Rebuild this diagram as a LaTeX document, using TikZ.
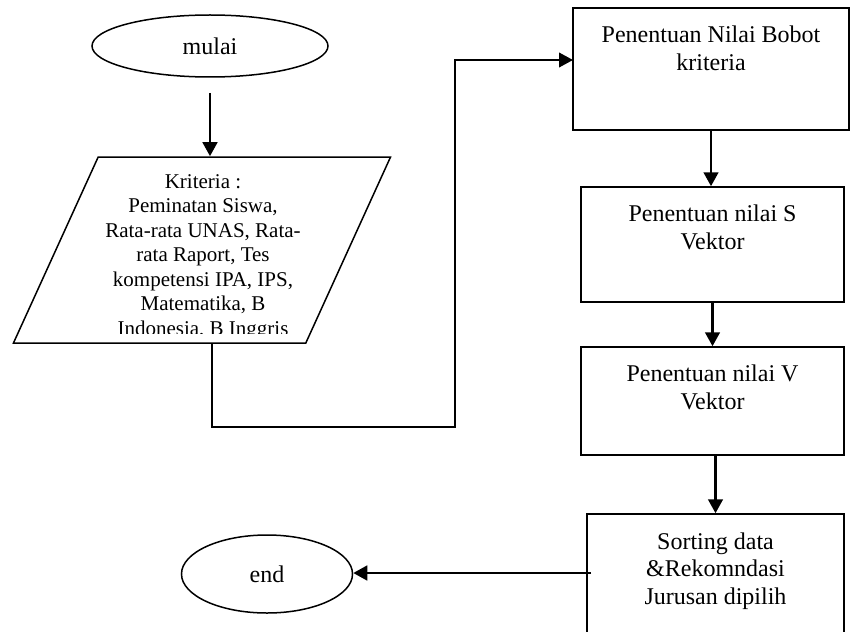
\documentclass[tikz,border=0pt]{standalone}
\usepackage{fontspec}
\setmainfont{Liberation Serif}
\usetikzlibrary{shapes.geometric,arrows.meta}

\begin{document}
\begin{tikzpicture}[x=0.5pt, y=-0.5pt,
	term/.style={draw, ellipse, line width=0.75pt, inner sep=0pt, font=\fontsize{12}{14}\selectfont},
	box/.style={draw, rectangle, line width=0.75pt, inner sep=0pt},
	para/.style={draw, trapezium, trapezium left angle=67.8, trapezium right angle=112.2, trapezium stretches=true, line width=0.75pt, inner sep=1pt, minimum width=188.5pt, minimum height=93pt},
	txt/.style={anchor=north, align=center, inner sep=0pt, font=\fontsize{12}{14}\selectfont},
	arr/.style={line width=1.35pt, -{Triangle[length=7pt, width=7.3pt]}},
	link/.style={line width=1pt, -{Triangle[length=7pt, width=7.3pt]}}]

	\useasboundingbox (0, 0) rectangle (850, 631);
	\clip (0, 0) rectangle (850, 631);

	\node[term, minimum width=118pt, minimum height=31pt] (mulai) at (210, 46) {mulai};
	\node[term, minimum width=85.5pt, minimum height=39pt] (selesai) at (267, 574) {end};

	\node[para] (krit) at (202, 250) {};
	\node[box, minimum width=138pt, minimum height=61pt] (bobot) at (711, 69) {};
	\node[box, minimum width=131.5pt, minimum height=57.5pt] (svek) at (712.5, 244.5) {};
	\node[box, minimum width=131.5pt, minimum height=54pt] (vvek) at (712.5, 401) {};
	\node[box, minimum width=128.5pt, minimum height=75pt] (sort) at (715.5, 589) {};

	\begin{scope}
		\clip (0, 0) rectangle (850, 333);
		\node[txt, font=\fontsize{10.5}{12.25}\selectfont] (krit-t) at (203, 174) {Kriteria :\\Peminatan Siswa,\\Rata-rata UNAS, Rata-\\rata Raport, Tes\\kompetensi IPA, IPS,\\Matematika, B\\Indonesia, B Inggris};
	\end{scope}
	\node[txt] (bobot-t) at (711, 25.5) {Penentuan Nilai Bobot\\kriteria};
	\node[txt] (svek-t) at (712.5, 204) {Penentuan nilai S\\Vektor};
	\node[txt] (vvek-t) at (712.5, 364) {Penentuan nilai V\\Vektor};
	\node[txt, font=\fontsize{12}{13.75}\selectfont] (sort-t) at (715.5, 532) {Sorting data\\\&Rekomndasi\\Jurusan dipilih};

	\coordinate (m-out) at (210, 93);
	\coordinate (k-out) at (212, 343);
	\coordinate (k-turn) at (455, 427);
	\coordinate (b-in) at (573, 60);
	\coordinate (s-out) at (591, 573);

	\draw[arr] (m-out) -- (m-out |- krit.north);
	\draw[link] (k-out) |- (k-turn) |- (b-in);
	\draw[arr] (bobot.south) -- (bobot.south |- svek.north);
	\draw[arr] (svek) -- (vvek);
	\draw[arr] (vvek.south -| sort.north) -- (sort.north);
	\draw[arr] (s-out) -- (s-out -| selesai.east);

\end{tikzpicture}
\end{document}
